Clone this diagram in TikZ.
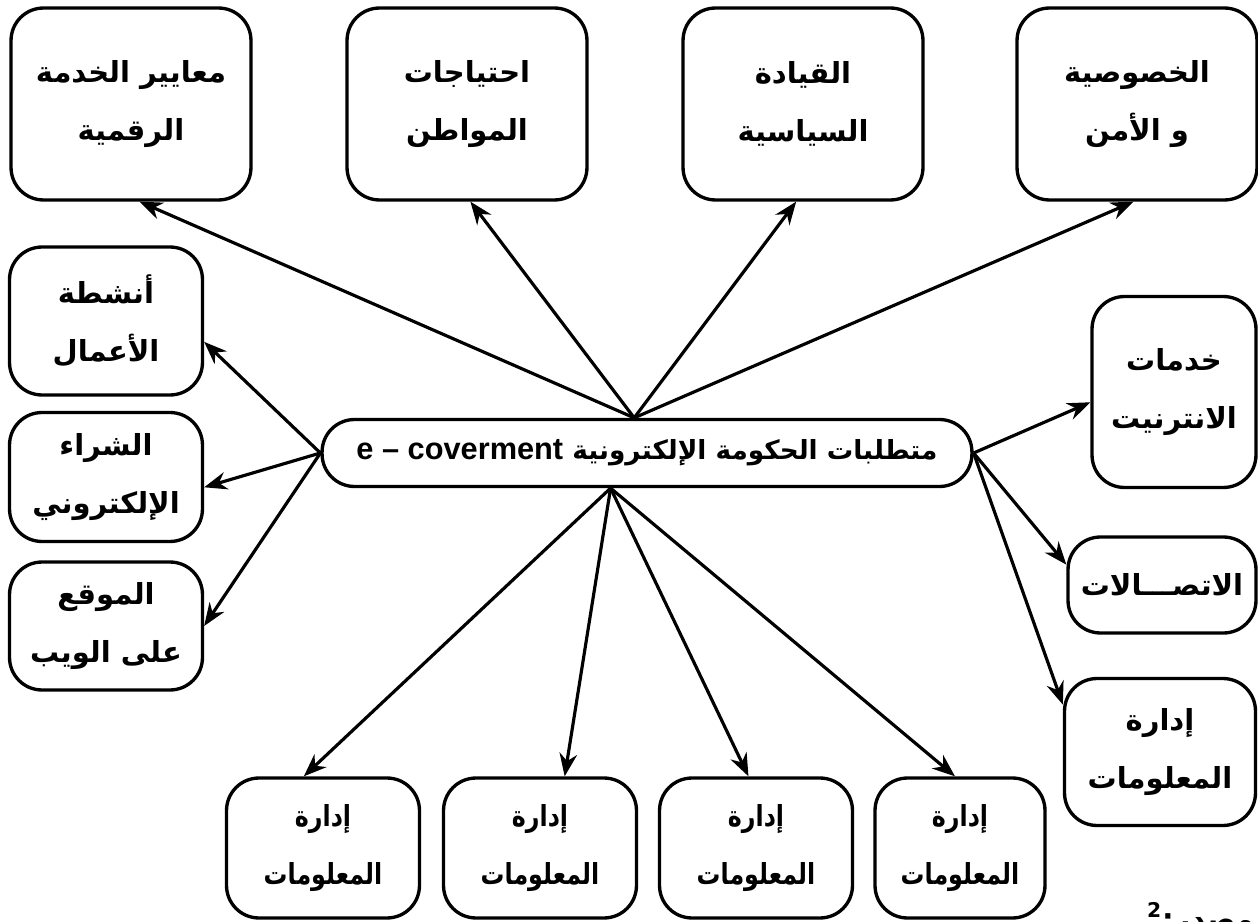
\documentclass[tikz,border=0pt]{standalone}
\usepackage{fontspec}
\setmainfont{DejaVu Sans}
\newfontfamily\arabfont[Script=Arabic]{DejaVu Sans}
\newfontfamily\arabnarrow[Script=Arabic,FakeStretch=0.82]{DejaVu Sans}
\newfontfamily\latfont{Liberation Sans}
\TeXXeTstate=1
\usetikzlibrary{arrows.meta, positioning, calc}
\newcommand{\ar}[1]{\beginR #1\endR}

\begin{document}
\begin{tikzpicture}[
    x=0.02cm, y=-0.02cm,
    every node/.style={font=\arabfont\bfseries\fontsize{16.5}{33}\selectfont},
    box/.style={draw, line width=1.9pt, rounded corners=0.65cm, align=center,
                inner sep=2pt},
    topbox/.style={box, minimum width=4.8cm, minimum height=3.84cm},
    sidebox/.style={box, minimum width=3.86cm},
    lowbox/.style={box, minimum width=3.86cm, minimum height=2.8cm,
                   font=\arabnarrow\bfseries\fontsize{16.5}{33}\selectfont},
    arrow/.style={-{Stealth[length=13pt,width=10pt]}, line width=1.8pt}]

\useasboundingbox (0,0) rectangle (1258,922);

% top row
\node[topbox] (std)  at (131,104)  {\ar{معايير الخدمة}\\\ar{الرقمية}};
\node[topbox] (need) at (467,104)  {\ar{احتياجات}\\\ar{المواطن}};
\node[topbox] (lead) at (803,104)  {\ar{القيادة}\\\ar{السياسية}};
\node[topbox] (priv) at (1137,104) {\ar{الخصوصية}\\\ar{و الأمن}};

% left column
\node[sidebox, minimum height=2.96cm] (biz) at (106,321) {\ar{أنشطة}\\\ar{الأعمال}};
\node[sidebox, minimum height=2.58cm] (buy) at (106,477) {\ar{الشراء}\\\ar{الإلكتروني}};
\node[sidebox, minimum height=2.56cm] (web) at (106,626) {\ar{الموقع}\\\ar{على الويب}};

% centre
\node[box, minimum width=13cm, minimum height=1.34cm,
      font=\arabfont\bfseries\fontsize{15}{20}\selectfont] (ctr) at (647,453)
    {\ar{متطلبات الحكومة الإلكترونية {\latfont\fontsize{17.5}{20}\selectfont\beginL e – coverment\endL}}};

% right column
\node[box, minimum width=3.28cm, minimum height=3.82cm] (net) at (1174,392) {\ar{خدمات}\\\ar{الانترنيت}};
\node[box, minimum width=3.76cm, minimum height=1.92cm] (com) at (1162,585) {\ar{الاتصـــالات}};
\node[box, minimum width=3.82cm, minimum height=2.94cm] (info) at (1160,752) {\ar{إدارة}\\\ar{المعلومات}};

% bottom row
\node[lowbox] (infoA) at (323,848) {\ar{إدارة}\\\ar{المعلومات}};
\node[lowbox] (infoB) at (540,848) {\ar{إدارة}\\\ar{المعلومات}};
\node[lowbox] (infoC) at (756,848) {\ar{إدارة}\\\ar{المعلومات}};
\node[lowbox, minimum width=3.4cm] (infoD) at (960,848) {\ar{إدارة}\\\ar{المعلومات}};

\node[anchor=base west] (src) at (1141,929) {\ar{المصدر:\textsuperscript{2}}};

\draw[arrow] (ctr.110) -- (std.-85);
\draw[arrow] (ctr.110) -- (need.-88);
\draw[arrow] (ctr.110) -- (lead.-94);
\draw[arrow] (ctr.110) -- (priv.-92);

\draw[arrow] (ctr.west) -- (biz.-12);
\draw[arrow] (ctr.west) -- (buy.-6);
\draw[arrow] (ctr.west) -- (web.east);

\draw[arrow] (ctr.east) -- (net.187);
\draw[arrow] (ctr.east) -- (com.168);
\draw[arrow] (ctr.east) -- (info.154);

\draw[arrow] (ctr.224) -- (infoA.105);
\draw[arrow] (ctr.224) -- (infoB.71);
\draw[arrow] (ctr.224) -- (infoC.96);
\draw[arrow] (ctr.224) -- (infoD.94);
\end{tikzpicture}
\end{document}
